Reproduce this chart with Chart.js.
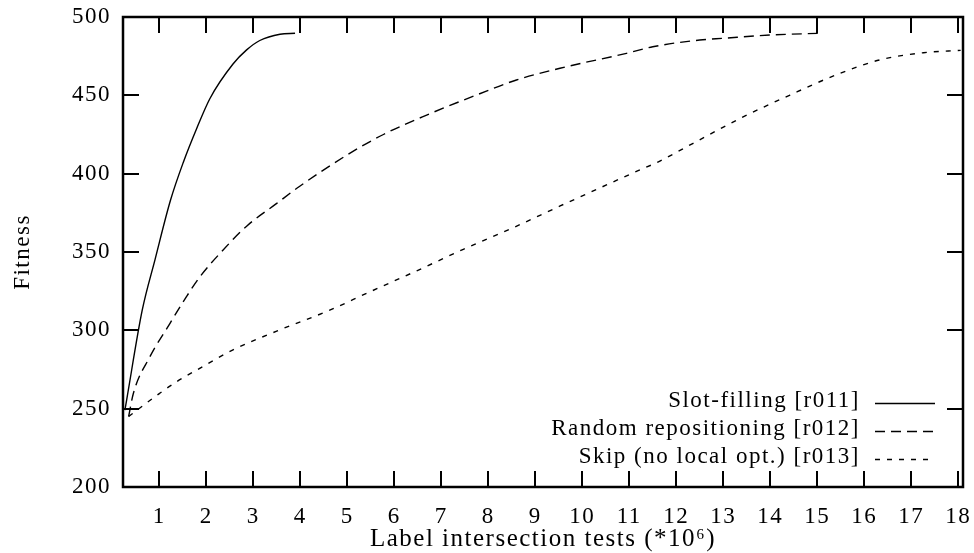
<!DOCTYPE html>
<html>
<head>
<meta charset="utf-8">
<script src="https://cdn.jsdelivr.net/npm/chart.js@4/dist/chart.umd.min.js"></script>
<style>
  html, body { margin: 0; padding: 0; background: #fff; }
  #wrap { width: 974px; height: 553px; position: relative; }
</style>
</head>
<body>
<div id="wrap"><canvas id="c" width="974" height="553"></canvas></div>
<script>
// ---- data ----
const seriesLabels = ["Slot-filling [r011]", "Random repositioning [r012]", "Skip (no local opt.) [r013]"];

const slotX = [0.27, 0.31, 0.64, 0.91, 1.24, 1.51, 1.80, 2.08, 2.57, 2.86, 3.14, 3.57, 3.89];
const slotY = [249, 256, 313, 345, 383, 407, 429, 448, 470, 479, 485, 489, 489.6];

const randX = [0.35, 0.45, 0.80, 1.23, 1.58, 1.87, 2.36, 2.86, 3.50, 3.99, 5.00, 5.77, 6.69, 7.75, 8.60, 9.67, 10.94, 11.50, 12.50, 13.00, 14.00, 15.05];
const randY = [245, 259.7, 283, 304.5, 321.5, 334.3, 351.3, 366.5, 381, 392, 412, 425, 437.4, 450.2, 459.8, 468.3, 476.8, 481, 485.3, 486.4, 488.5, 489.6];

const skipX = [0.35, 0.67, 1.01, 1.37, 1.80, 2.57, 3.50, 4.64, 5.41, 6.48, 7.47, 8.53, 9.53, 10.31, 11.09, 11.62, 12.36, 13.36, 14.42, 15.48, 16.33, 17.26, 18.05];
const skipY = [245, 252.3, 259.8, 267.2, 274.7, 287.5, 299.5, 313, 323.6, 338, 351.7, 365.5, 379.4, 390, 400.6, 407.6, 419.4, 435.3, 450.2, 464, 472.6, 477.2, 478.7];

const xTicks = [1,2,3,4,5,6,7,8,9,10,11,12,13,14,15,16,17,18];
const yTicks = [200,250,300,350,400,450,500];
const xRange = [0.23, 18.1];
const yRange = [200, 500];
const xTitle = "Label intersection tests (*10\u2076)";
const yTitle = "Fitness";

// ---- build ----
const pts = (xs, ys) => xs.map((x, i) => ({x: x, y: ys[i]}));
const FONT = "'Liberation Serif', 'DejaVu Serif', serif";

const spacing = {
  id: 'spacing',
  beforeDraw(chart) {
    const ctx = chart.ctx;
    if ('letterSpacing' in ctx) ctx.letterSpacing = '1.5px';
  }
};

const frame = {
  id: 'frame',
  afterDatasetsDraw(chart) {
    const {ctx, chartArea: a, scales: {x, y}} = chart;
    ctx.save();
    ctx.strokeStyle = '#000';
    ctx.lineCap = 'butt';
    // ticks (inward, mirrored)
    ctx.lineWidth = 2;
    const TL = 16;
    x.ticks.forEach(t => {
      const px = Math.round(x.getPixelForValue(t.value));
      ctx.beginPath();
      ctx.moveTo(px, a.bottom); ctx.lineTo(px, a.bottom - TL);
      ctx.moveTo(px, a.top); ctx.lineTo(px, a.top + TL);
      ctx.stroke();
    });
    y.ticks.forEach(t => {
      const py = Math.round(y.getPixelForValue(t.value));
      ctx.beginPath();
      ctx.moveTo(a.left, py); ctx.lineTo(a.left + TL, py);
      ctx.moveTo(a.right, py); ctx.lineTo(a.right - TL, py);
      ctx.stroke();
    });
    // border
    ctx.lineWidth = 2.5;
    ctx.strokeRect(a.left, a.top, a.right - a.left, a.bottom - a.top);
    // legend
    ctx.font = "23px " + FONT;
    if ('letterSpacing' in ctx) ctx.letterSpacing = '1.5px';
    ctx.fillStyle = '#000';
    ctx.textAlign = 'right';
    ctx.textBaseline = 'alphabetic';
    const rows = [a.bottom - 80, a.bottom - 52, a.bottom - 24];
    chart.data.datasets.forEach((ds, i) => {
      const ry = rows[i];
      ctx.fillText(ds.label, 860, ry);
      ctx.save();
      ctx.lineWidth = ds.borderWidth;
      ctx.setLineDash(ds.borderDash || []);
      ctx.beginPath();
      ctx.moveTo(875, ry - 3.5); ctx.lineTo(935, ry - 3.5);
      ctx.stroke();
      ctx.restore();
    });
    ctx.restore();
  }
};

new Chart(document.getElementById('c'), {
  type: 'line',
  data: {
    datasets: [
      { label: seriesLabels[0], data: pts(slotX, slotY), borderColor: '#000', borderWidth: 1.4, borderDash: [], pointRadius: 0, cubicInterpolationMode: 'monotone', fill: false },
      { label: seriesLabels[1], data: pts(randX, randY), borderColor: '#000', borderWidth: 1.4, borderDash: [10, 6], pointRadius: 0, cubicInterpolationMode: 'monotone', fill: false },
      { label: seriesLabels[2], data: pts(skipX, skipY), borderColor: '#000', borderWidth: 1.4, borderDash: [5, 7], pointRadius: 0, cubicInterpolationMode: 'monotone', fill: false }
    ]
  },
  options: {
    responsive: false,
    animation: false,
    events: [],
    layout: { padding: { left: 0, top: 17, right: 11, bottom: 0 } },
    plugins: { legend: { display: false }, tooltip: { enabled: false } },
    scales: {
      x: {
        type: 'linear',
        min: xRange[0], max: xRange[1],
        afterBuildTicks: s => { s.ticks = xTicks.map(v => ({value: v})); },
        afterFit: s => { s.height = 66; s.paddingLeft = 0; s.paddingRight = 0; },
        grid: { display: false, drawTicks: false },
        border: { display: false },
        ticks: { color: '#000', font: { family: FONT, size: 23 }, padding: 16, maxRotation: 0, autoSkip: false, callback: v => String(v) },
        title: { display: true, text: xTitle, color: '#000', font: { family: FONT, size: 25, lineHeight: 1.1 }, padding: { top: 0, bottom: 0 } }
      },
      y: {
        type: 'linear',
        min: yRange[0], max: yRange[1],
        afterBuildTicks: s => { s.ticks = yTicks.map(v => ({value: v})); },
        afterFit: s => { s.width = 123; s.paddingTop = 0; s.paddingBottom = 0; },
        grid: { display: false, drawTicks: false },
        border: { display: false },
        ticks: { color: '#000', font: { family: FONT, size: 23 }, padding: 12, autoSkip: false, callback: v => String(v) },
        title: { display: true, text: yTitle, color: '#000', font: { family: FONT, size: 23 }, padding: { top: 9, bottom: 0 } }
      }
    }
  },
  plugins: [spacing, frame]
});
</script>
</body>
</html>
